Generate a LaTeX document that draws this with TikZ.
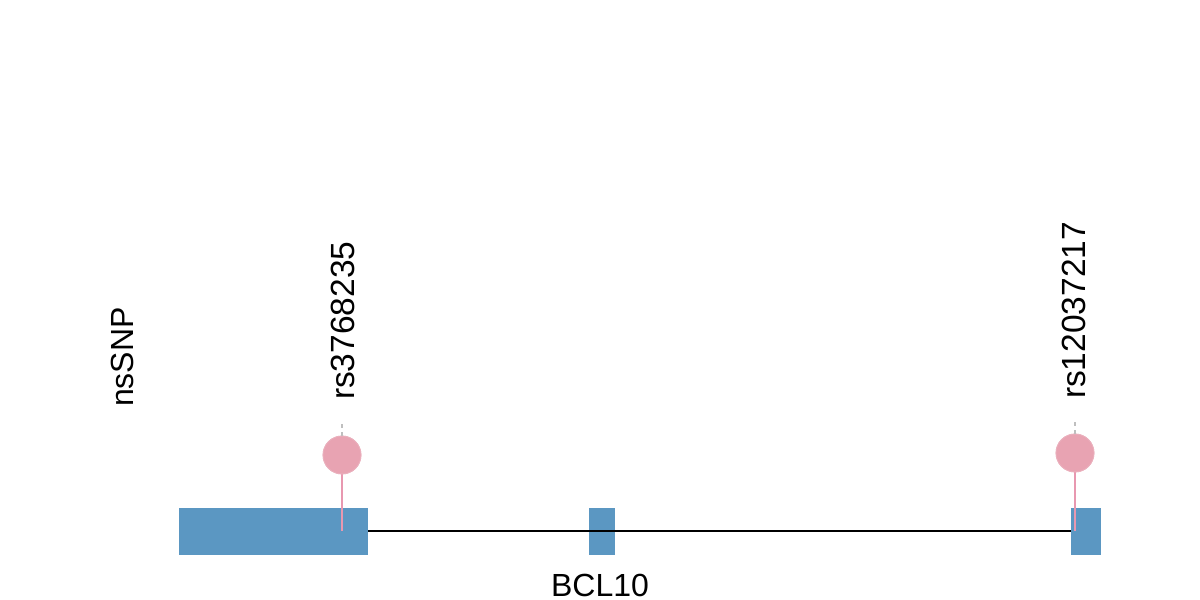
\documentclass[tikz,border=0pt]{standalone}
\usepackage{fontspec}
\setmainfont{Liberation Sans}
\definecolor{exonblue}{HTML}{5B97C2}
\definecolor{snppink}{HTML}{E8A3B2}
\definecolor{stempink}{HTML}{E898B0}
\begin{document}
\begin{tikzpicture}[x=1pt,y=1pt,
  exon/.style={fill=exonblue, draw=none},
  intron/.style={line width=2pt, black},
  stem/.style={line width=2pt, stempink},
  snp/.style={circle, fill=snppink, draw=snppink!85!white, line width=0.8pt, minimum size=38pt, inner sep=0pt},
  guide/.style={line width=1.5pt, gray!50, dash pattern=on 4pt off 4pt},
  lbl/.style={font=\fontsize{32}{38}\selectfont, inner sep=0pt, outer sep=0pt},
  snplbl/.style={font=\fontsize{33.5}{40}\selectfont, inner sep=0pt, outer sep=0pt, rotate=90, anchor=base west}]
\useasboundingbox (0,0) rectangle (1200,600);
% exons
\path[exon] (179,45) rectangle (368,92);
\node[inner sep=0pt, minimum width=189pt, minimum height=47pt, anchor=south west] (e1) at (179,45) {};
\path[exon] (589,45) rectangle (615,92);
\node[inner sep=0pt, minimum width=26pt, minimum height=47pt, anchor=south west] (e2) at (589,45) {};
\path[exon] (1071,45) rectangle (1101,92);
\node[inner sep=0pt, minimum width=30pt, minimum height=47pt, anchor=south west] (e3) at (1071,45) {};
% intron
\draw[intron] (e1.east) -- (e3.west);
% SNPs
\coordinate (s1b) at (342,69);
\coordinate (s2b) at (1075,69);
\node[snp] (c1) at (342,145) {};
\node[snp] (c2) at (1075,147) {};
\draw[stem] (s1b) -- (c1.center);
\draw[stem] (s2b) -- (c2.center);
\node[snp] at (c1) {};
\node[snp] at (c2) {};
\coordinate (g1) at (342,179);
\coordinate (g2) at (1075,181);
\draw[guide] (c1.north) -- (g1);
\draw[guide] (c2.north) -- (g2);
% labels
\node[snplbl] (l1) at (354,200) {rs3768235};
\node[snplbl] (l2) at (1085,201) {rs12037217};
\node[lbl, rotate=90, anchor=base west] (ns) at (133,193) {nsSNP};
\node[lbl, anchor=base] (gene) at (600,4) {BCL10};
\end{tikzpicture}
\end{document}
